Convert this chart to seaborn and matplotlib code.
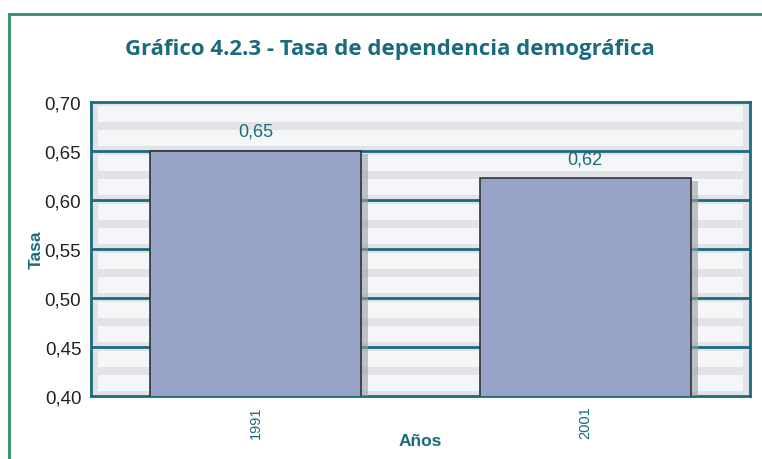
import numpy as np
import pandas as pd
import matplotlib
matplotlib.use("Agg")
import matplotlib.pyplot as plt
import matplotlib.patheffects as pe
from matplotlib.patches import Rectangle
import seaborn as sns

# datos
anios = ["1991", "2001"]
tasa = [0.65, 0.622]
etiquetas = ["0,65", "0,62"]

TEAL = "#1b6b7e"
BAR = "#97a3c7"

df = pd.DataFrame({"Años": anios, "Tasa": tasa})

sns.set_style("white")
plt.rcParams["font.family"] = ["Liberation Sans", "DejaVu Sans"]

fig = plt.figure(figsize=(7.62, 4.60), dpi=100)
ax = fig.add_axes([91 / 762, 1 - 397 / 460, 659 / 762, 294 / 460])

# marco verde
fig.patches.append(Rectangle((9 / 762, -0.1), 1.1, 1 - 15 / 460 + 0.1,
                             transform=fig.transFigure, fill=False,
                             edgecolor="#2b9160", linewidth=2, zorder=0))

# fondo rayado
ax.set_facecolor("#e1e3e6")
for lo in np.arange(0.40, 0.70, 0.025):
    ax.axhspan(lo + 0.005, lo + 0.021, xmin=0.01, xmax=0.99,
               color="#f5f6f8", zorder=0, lw=0)

for v in np.arange(0.45, 0.70, 0.05):
    ax.axhline(v, color=TEAL, lw=2, zorder=1)

sns.barplot(data=df, x="Años", y="Tasa", color=BAR, width=0.64,
            edgecolor="#333333", linewidth=1.2, saturation=1, ax=ax, zorder=3)
for p in ax.containers[0]:
    p.set_path_effects([pe.SimplePatchShadow(offset=(5, -2), shadow_rgbFace="#9aa0a6",
                                             alpha=0.6), pe.Normal()])

ax.bar_label(ax.containers[0], labels=etiquetas, padding=8, color=TEAL, fontsize=13)

ax.set_ylim(0.40, 0.70)
ax.set_xlim(-0.5, 1.5)
ax.set_yticks(np.arange(0.40, 0.701, 0.05))
ax.set_yticklabels([f"{v:.2f}".replace(".", ",") for v in np.arange(0.40, 0.701, 0.05)],
                   fontsize=13.5, color="#222222")
ax.set_xticks([-0.5, 0.5, 1.5])
ax.set_xticklabels([])
ax.set_xticks([0, 1], minor=True)
ax.set_xticklabels(anios, minor=True, rotation=90, color=TEAL, fontsize=10.5)
ax.tick_params(axis="x", which="minor", length=0, pad=7)
ax.tick_params(axis="both", which="major", length=5, width=2, color=TEAL)
ax.tick_params(axis="y", pad=2)
ax.tick_params(axis="x", which="major", direction="out")

for s in ax.spines.values():
    s.set_color(TEAL)
    s.set_linewidth(2)
    s.set_visible(True)

ax.set_xlabel("Años", fontsize=12.5, fontweight="bold", color=TEAL, labelpad=-4)
ax.set_ylabel("Tasa", fontsize=12.5, fontweight="bold", color=TEAL, labelpad=1)

fig.text(390 / 762, 1 - 50 / 460, "Gráfico 4.2.3 - Tasa de dependencia demográfica",
         ha="center", va="center", fontsize=16, fontweight="bold", color=TEAL,
         family="Open Sans")

fig.savefig("out.png", dpi=100)
